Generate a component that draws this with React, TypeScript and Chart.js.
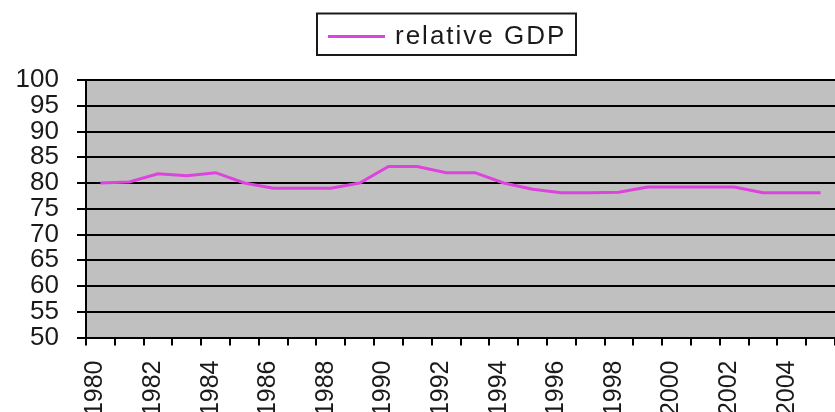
import React, { useEffect, useRef } from "react";
import { Chart, registerables } from "chart.js";

Chart.register(...registerables);

// Yearly categories and the relative GDP series (index points)
const years = [
  "1980", "1981", "1982", "1983", "1984", "1985", "1986", "1987", "1988",
  "1989", "1990", "1991", "1992", "1993", "1994", "1995", "1996", "1997",
  "1998", "1999", "2000", "2001", "2002", "2003", "2004", "2005",
];
const relativeGdp = [
  80.0, 80.2, 81.8, 81.4, 82.0, 80.0, 79.0, 79.0, 79.0,
  80.0, 83.2, 83.2, 82.0, 82.0, 80.0, 78.8, 78.1, 78.1,
  78.2, 79.2, 79.2, 79.2, 79.2, 78.1, 78.1, 78.1,
];
const seriesLabel = "relative GDP";
const yMin = 50;
const yMax = 100;
const yStep = 5;

const CANVAS_W = 835;
const CANVAS_H = 430;
const VISIBLE_H = 412;
const PLOT_LEFT = 86;
const PLOT_TOP = 80;
const PLOT_BOTTOM = 337.5;
const FONT = "'Liberation Sans', Arial, sans-serif";

// Grey fill behind the plot area
const plotBackground = {
  id: "plotBackground",
  beforeDraw(chart: any) {
    const { ctx, chartArea: a } = chart;
    ctx.save();
    ctx.fillStyle = "#c0c0c0";
    ctx.fillRect(a.left, a.top, a.right - a.left, a.bottom - a.top);
    ctx.restore();
  },
};

// Framed legend above the plot
const boxedLegend = {
  id: "boxedLegend",
  afterDraw(chart: any) {
    const ds = chart.data.datasets[0];
    const ctx = chart.ctx;
    ctx.save();
    ctx.fillStyle = "#ffffff";
    ctx.fillRect(317, 13.5, 259, 41.5);
    ctx.strokeStyle = "#1a1a1a";
    ctx.lineWidth = 2;
    ctx.strokeRect(317, 13.5, 259, 41.5);
    ctx.strokeStyle = ds.borderColor;
    ctx.lineWidth = 3;
    ctx.beginPath();
    ctx.moveTo(328, 36.5);
    ctx.lineTo(385, 36.5);
    ctx.stroke();
    ctx.fillStyle = "#1a1a1a";
    ctx.font = `26px ${FONT}`;
    (ctx as any).letterSpacing = "2px";
    ctx.textBaseline = "alphabetic";
    ctx.textAlign = "left";
    ctx.fillText(ds.label, 395, 44);
    ctx.restore();
  },
};

export default function App() {
  const canvasRef = useRef<HTMLCanvasElement | null>(null);

  useEffect(() => {
    if (!canvasRef.current) return;
    const chart = new Chart(canvasRef.current, {
      type: "line",
      data: {
        labels: years,
        datasets: [
          {
            label: seriesLabel,
            data: relativeGdp,
            borderColor: "#dd44dd",
            borderWidth: 3,
            pointRadius: 0,
            tension: 0,
            fill: false,
          },
        ],
      },
      options: {
        animation: false,
        responsive: false,
        devicePixelRatio: 1,
        layout: { padding: { top: PLOT_TOP, left: 0, right: 0, bottom: 0 } },
        plugins: {
          legend: { display: false },
          tooltip: { enabled: false },
        },
        scales: {
          x: {
            type: "category",
            offset: true,
            grid: {
              offset: true,
              drawOnChartArea: false,
              drawTicks: true,
              tickLength: 8,
              color: "#000000",
              lineWidth: 2,
            },
            border: { display: true, color: "#000000", width: 2 },
            ticks: {
              autoSkip: false,
              minRotation: 90,
              maxRotation: 90,
              padding: 15,
              labelOffset: -5,
              color: "#1a1a1a",
              font: { family: FONT, size: 25 },
              callback: (_v: any, i: number) => (i % 2 === 0 ? years[i] : ""),
            },
            afterFit(scale: any) {
              scale.height = CANVAS_H - PLOT_BOTTOM;
              scale.paddingLeft = 0;
              scale.paddingRight = 0;
            },
          },
          y: {
            min: yMin,
            max: yMax,
            grid: {
              color: "#000000",
              lineWidth: 2,
              drawTicks: true,
              tickLength: 9,
            },
            border: { display: true, color: "#000000", width: 2 },
            ticks: {
              stepSize: yStep,
              autoSkip: false,
              padding: 18,
              color: "#1a1a1a",
              font: { family: FONT, size: 26 },
            },
            afterFit(scale: any) {
              scale.width = PLOT_LEFT;
            },
          },
        },
      },
      plugins: [plotBackground, boxedLegend],
    });
    return () => chart.destroy();
  }, []);

  return (
    <div
      style={{
        position: "absolute",
        left: 0,
        top: 0,
        width: CANVAS_W,
        height: VISIBLE_H,
        overflow: "hidden",
        background: "#ffffff",
      }}
    >
      <canvas
        ref={canvasRef}
        width={CANVAS_W}
        height={CANVAS_H}
        style={{ display: "block", width: CANVAS_W, height: CANVAS_H }}
      />
    </div>
  );
}
